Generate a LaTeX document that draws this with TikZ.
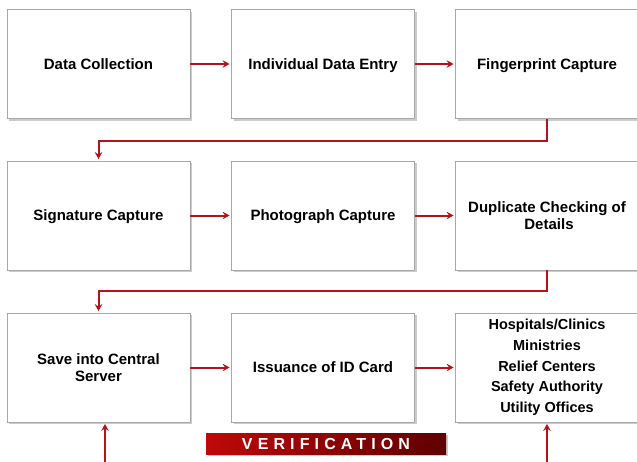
\documentclass[tikz,border=0pt]{standalone}
\usepackage{fontspec}
\setmainfont{Liberation Sans}
\usetikzlibrary{arrows.meta,shadows}
\definecolor{arrred}{HTML}{B3141C}
\definecolor{boxgray}{HTML}{A8A8A8}
\definecolor{banL}{HTML}{C00808}
\definecolor{banR}{HTML}{5E0000}
\tikzset{
  stepbox/.style={draw=boxgray, line width=0.8pt, fill=white, minimum width=183pt, minimum height=109pt,
    inner sep=2pt, align=center, font=\fontsize{15}{16.5}\selectfont\bfseries,
    drop shadow={shadow xshift=2pt, shadow yshift=-2pt, fill=black!40, opacity=0.5}},
  onebox/.style={stepbox, text height=10.8pt, text depth=0pt},
  arr/.style={draw=arrred, line width=2pt, -{Stealth[length=7pt,width=7.5pt,inset=2.5pt]}, shorten >=1.5pt}
}
\begin{document}
\begin{tikzpicture}[x=1pt,y=-1pt]
\useasboundingbox (0,0) rectangle (637,461);
\clip (0,0) rectangle (637,461);
\fill[white] (0,0) rectangle (637,461);
% row 1
\node[onebox] (dc)  at (98.5,64) {Data Collection};
\node[onebox] (ide) at (323,64) {Individual Data Entry};
\node[onebox] (fc)  at (547,64) {Fingerprint Capture};
% row 2
\node[onebox] (sc)  at (98.5,215.5) {Signature Capture};
\node[onebox] (pc)  at (323,215.5) {Photograph Capture};
\node[stepbox] (dup) at (547,215.5) {Duplicate Checking of\\\hspace{4pt}Details};
% row 3
\node[stepbox] (sv)  at (98.5,367.5) {Save into Central\\Server};
\node[onebox] (iss) at (323,367.5) {Issuance of ID Card};
\node[stepbox, font=\fontsize{14.5}{20.7}\selectfont\bfseries] (hosp) at (547,367.5)
  {Hospitals/Clinics\\Ministries\\Relief Centers\\Safety Authority\\Utility Offices};
% horizontal arrows
\draw[arr] (dc) -- (ide);
\draw[arr] (ide) -- (fc);
\draw[arr] (sc) -- (pc);
\draw[arr] (pc) -- (dup);
\draw[arr] (sv) -- (iss);
\draw[arr] (iss) -- (hosp);
% elbows
\draw[arr] (fc.south) -- ++(0,22) -| (sc.north);
\draw[arr] (dup.south) -- ++(0,21) -| (sv.north);
% bottom arrows
\coordinate (b1) at (105,470);
\coordinate (b2) at (547,470);
\draw[arr] (b1) -- (b1 |- sv.south);
\draw[arr] (b2) -- (hosp.south);
% banner
\node[minimum width=240pt, minimum height=21pt, inner sep=0pt, left color=banL, right color=banR,
  drop shadow={shadow xshift=1.5pt, shadow yshift=-1.5pt, fill=black!40, opacity=0.5},
  text=white, font=\fontsize{16}{16}\selectfont\bfseries\addfontfeature{LetterSpace=32}]
  (ver) at (326,443.5) {VERIFICATION};
\end{tikzpicture}
\end{document}
